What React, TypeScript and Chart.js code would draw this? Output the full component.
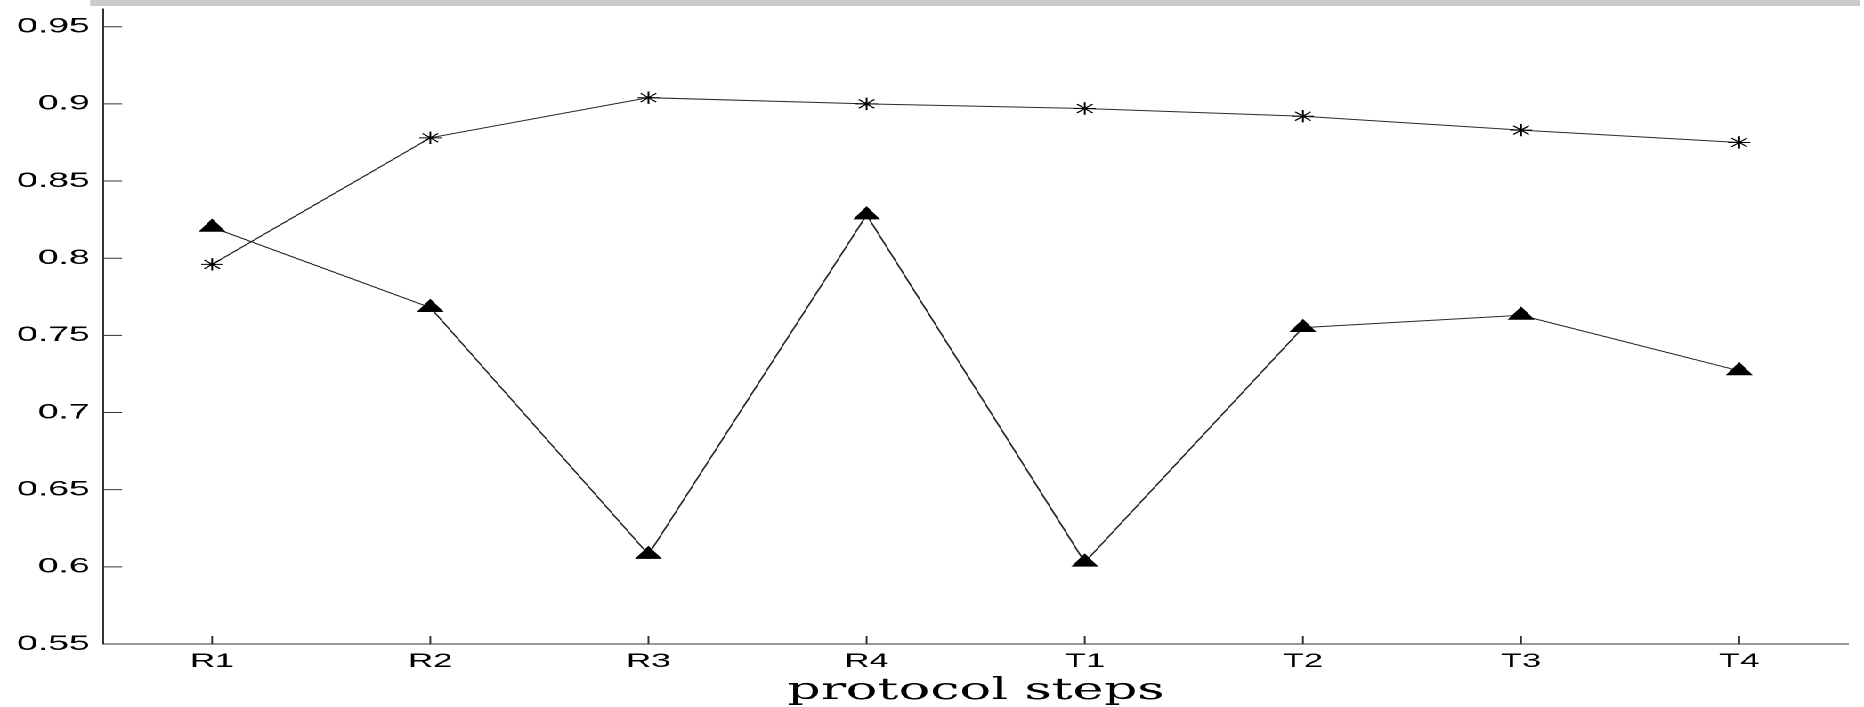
import React, { useEffect, useRef } from "react";
import { Chart, registerables } from "chart.js";

Chart.register(...registerables);

// ---- data ----
const categories = ["R1", "R2", "R3", "R4", "T1", "T2", "T3", "T4"];
const asteriskSeries = [0.796, 0.878, 0.904, 0.9, 0.897, 0.892, 0.883, 0.875];
const triangleSeries = [0.82, 0.768, 0.608, 0.828, 0.603, 0.755, 0.763, 0.727];
const yTickValues = [0.55, 0.6, 0.65, 0.7, 0.75, 0.8, 0.85, 0.9, 0.95];
const yTickLabels = ["0.55", "0.6", "0.65", "0.7", "0.75", "0.8", "0.85", "0.9", "0.95"];
const xTitle = "protocol steps";

// ---- layout (the figure is horizontally stretched) ----
const OUT_W = 1864;
const OUT_H = 707;
const LOGICAL_W = 1047;
const STRETCH = OUT_W / LOGICAL_W;

const tickMarksPlugin = {
  id: "tickMarks",
  afterDraw(chart: any) {
    const { ctx, chartArea } = chart;
    const x = chart.scales.x;
    const y = chart.scales.y;
    ctx.save();
    ctx.strokeStyle = "#333";
    ctx.lineWidth = 1;
    ctx.beginPath();
    y.ticks.forEach((t: any) => {
      const py = y.getPixelForValue(t.value);
      ctx.moveTo(chartArea.left, py);
      ctx.lineTo(chartArea.left + 10.7, py);
    });
    x.ticks.forEach((_t: any, i: number) => {
      const px = x.getPixelForTick(i);
      ctx.moveTo(px, chartArea.bottom);
      ctx.lineTo(px, chartArea.bottom - 8);
    });
    ctx.stroke();
    // grey band at the top of the figure
    ctx.fillStyle = "#cbcbcb";
    ctx.fillRect(50.6, 0, 994.2, 6);
    ctx.restore();
  },
};

export default function App() {
  const canvasRef = useRef<HTMLCanvasElement | null>(null);

  useEffect(() => {
    document.body.style.margin = "0";
    document.body.style.overflow = "hidden";
    const canvas = canvasRef.current;
    if (!canvas) return;
    const chart = new Chart(canvas, {
      type: "line",
      data: {
        labels: categories,
        datasets: [
          {
            data: asteriskSeries,
            borderColor: "#2a2a2a",
            borderWidth: 1,
            pointStyle: "star",
            pointRadius: 6.2,
            pointBorderColor: "#000",
            pointBorderWidth: 1,
            pointBackgroundColor: "#000",
            tension: 0,
            fill: false,
          },
          {
            data: triangleSeries,
            borderColor: "#2a2a2a",
            borderWidth: 1,
            pointStyle: "triangle",
            pointRadius: 8.8,
            pointBorderWidth: 0,
            pointBackgroundColor: "#000",
            pointBorderColor: "#000",
            tension: 0,
            fill: false,
          },
        ],
      },
      options: {
        animation: false,
        responsive: true,
        maintainAspectRatio: false,
        devicePixelRatio: 2,
        layout: { padding: { left: 0, right: 7.3, top: 6, bottom: 0 } },
        plugins: {
          legend: { display: false },
          tooltip: { enabled: false },
        },
        scales: {
          x: {
            type: "category",
            offset: true,
            grid: { display: true, drawOnChartArea: false, drawTicks: false },
            border: { display: true, color: "#333", width: 1 },
            ticks: {
              color: "#000",
              padding: 6,
              maxRotation: 0,
              font: { family: "Liberation Sans", size: 19.5 },
            },
            title: {
              display: true,
              text: xTitle,
              color: "#000",
              font: { family: "DejaVu Serif", size: 29.5, lineHeight: 1.05 },
              padding: { top: 0, bottom: 0 },
            },
            afterFit: (scale: any) => {
              scale.height = 63;
              scale.paddingLeft = 0;
              scale.paddingRight = 0;
            },
          },
          y: {
            type: "linear",
            min: 0.55,
            max: 0.9616,
            grid: { display: true, drawOnChartArea: false, drawTicks: false },
            border: { display: true, color: "#333", width: 1 },
            afterBuildTicks: (scale: any) => {
              scale.ticks = yTickValues.map((v) => ({ value: v }));
            },
            ticks: {
              color: "#000",
              padding: 7.5,
              font: { family: "Liberation Sans", size: 21 },
              callback: (value: any) => {
                const i = yTickValues.findIndex((v) => Math.abs(v - Number(value)) < 1e-6);
                return i >= 0 ? yTickLabels[i] : "";
              },
            },
            afterFit: (scale: any) => {
              scale.width = 57.9;
              scale.paddingTop = 0;
              scale.paddingBottom = 0;
            },
          },
        },
      },
      plugins: [tickMarksPlugin],
    });
    return () => chart.destroy();
  }, []);

  return (
    <div
      style={{
        position: "fixed",
        left: 0,
        top: 0,
        width: LOGICAL_W,
        height: OUT_H,
        background: "#fff",
        transform: `scaleX(${STRETCH})`,
        transformOrigin: "0 0",
      }}
    >
      <canvas ref={canvasRef} />
    </div>
  );
}
